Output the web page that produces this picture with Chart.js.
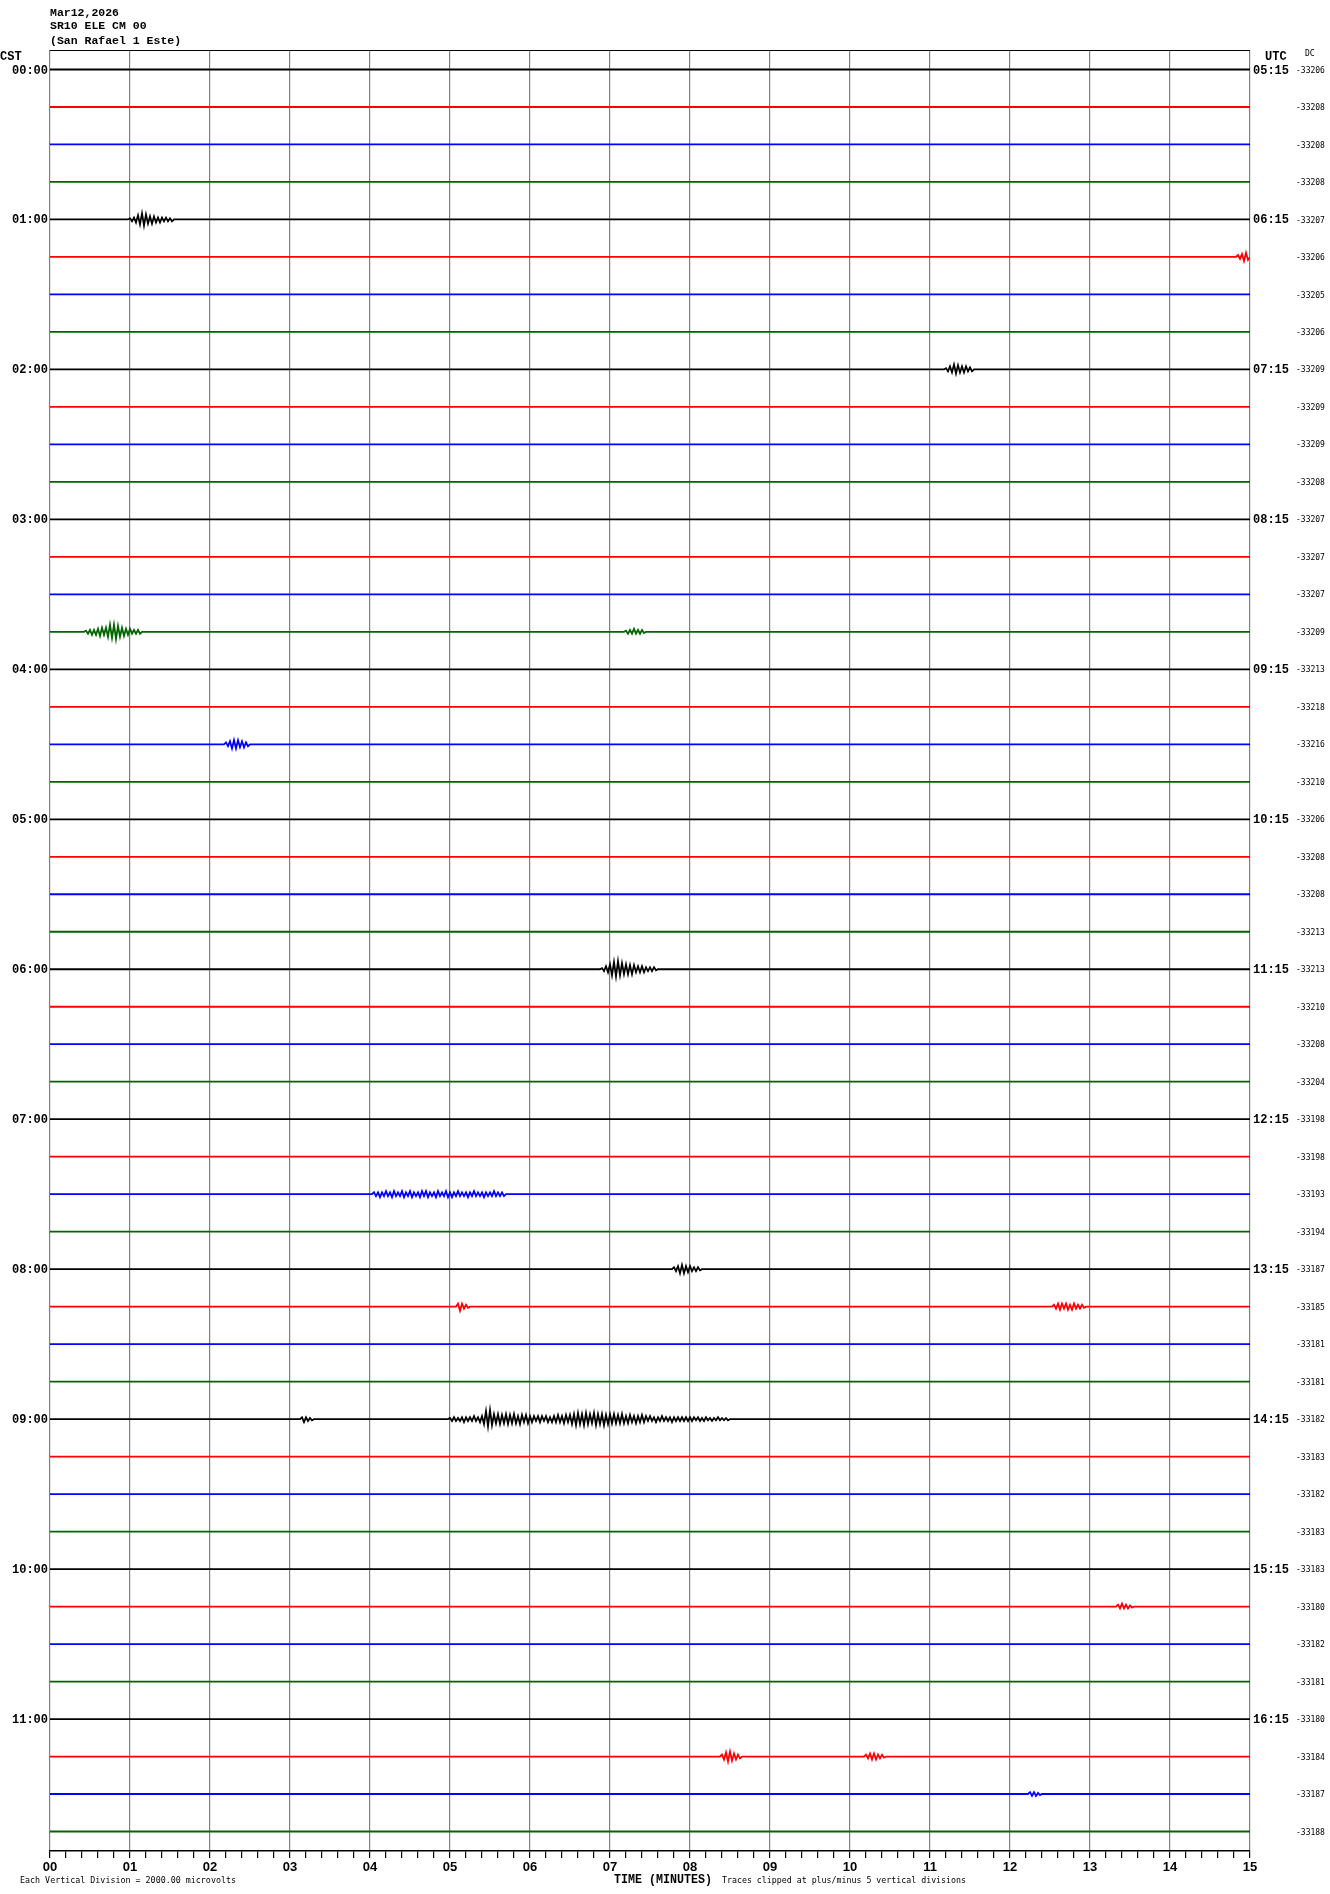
<!DOCTYPE html>
<html>
<head>
<meta charset="utf-8">
<title>SR10 ELE CM 00 helicorder</title>
<script src="https://cdn.jsdelivr.net/npm/chart.js@4/dist/chart.umd.min.js"></script>
<style>
  body { margin: 0; background: #fff; }
  #wrap { width: 1330px; height: 1894px; position: relative; }
</style>
</head>
<body>
<div id="wrap"><canvas id="heli"></canvas></div>
<script>
// --- data ---
const TITLE_LINES = ['Mar12,2026', 'SR10 ELE CM 00', '(San Rafael 1 Este)'];
const TRACE_COLORS = ['#000000', '#ff0000', '#0000ff', '#006600'];
const CST_LABELS = ['00:00', '01:00', '02:00', '03:00', '04:00', '05:00', '06:00', '07:00', '08:00', '09:00', '10:00', '11:00'];
const UTC_LABELS = ['05:15', '06:15', '07:15', '08:15', '09:15', '10:15', '11:15', '12:15', '13:15', '14:15', '15:15', '16:15'];
const DC_VALUES = [
  -33206, -33208, -33208, -33208, -33207, -33206, -33205, -33206,
  -33209, -33209, -33209, -33208, -33207, -33207, -33207, -33209,
  -33213, -33218, -33216, -33210, -33206, -33208, -33208, -33213,
  -33213, -33210, -33208, -33204, -33198, -33198, -33193, -33194,
  -33187, -33185, -33181, -33181, -33182, -33183, -33182, -33183,
  -33183, -33180, -33182, -33181, -33180, -33184, -33187, -33188
];
const MINUTE_LABELS = ['00', '01', '02', '03', '04', '05', '06', '07', '08', '09', '10', '11', '12', '13', '14', '15'];
const N_TRACES = 48;
const MINUTES = 15;

// events: [trace, start minute, samples every SAMPLE_STEP min, in % of trace spacing]
const SAMPLE_STEP = 0.025;
const EVENTS = [
  [4, 1.0, [3, -5, 5, -8, 11, -13, 16, -16, 13, -11, 8, -11, 8, -8, 5, -8, 5, -5, 5, -5, 3, -5]],
  [5, 14.85, [5, -5, 8, -11, 11, -8]],
  [8, 11.2, [3, -5, 8, -8, 13, -11, 11, -8, 8, -8, 8, -5, 5, -5]],
  [15, 0.45, [3, -5, 5, -8, 5, -8, 8, -11, 11, -8, 11, -13, 19, -16, 19, -19, 16, -13, 11, -11, 8, -8, 8, -5, 5, -5, 5, -5]],
  [15, 7.2, [3, -5, 5, -5, 8, -5, 5, -5, 5, -3]],
  [18, 2.2, [5, -5, 8, -11, 11, -11, 11, -8, 8, -8, 5, -5]],
  [24, 6.9, [3, -5, 8, -8, 13, -16, 19, -19, 21, -16, 16, -13, 13, -13, 11, -13, 11, -8, 8, -8, 8, -8, 5, -5, 5, -5, 5, -3]],
  [30, 4.05, [5, -5, 5, -8, 5, -5, 8, -5, 5, -8, 8, -5, 5, -5, 8, -8, 5, -5, 8, -8, 5, -5, 5, -8, 8, -5, 8, -8, 5, -5,
              5, -8, 8, -5, 5, -5, 8, -8, 5, -8, 5, -5, 8, -5, 5, -5, 5, -8, 5, -5, 8, -5, 5, -5, 5, -8, 5, -5, 5, -5,
              8, -5, 5, -5, 5, -5]],
  [32, 7.8, [5, -5, 8, -11, 11, -11, 8, -8, 8, -5, 5, -5, 5, -3]],
  [33, 5.1, [8, -11, 8, -5, 5, -3]],
  [33, 12.55, [5, -5, 8, -8, 8, -5, 8, -8, 5, -8, 8, -5, 5, -5, 5, -3]],
  [36, 3.15, [5, -8, 5, -5, 3, -3]],
  [36, 5.0, [3, -5, 5, -5, 3, -5, 5, -8, 5, -5, 5, -5, 8, -5, 5, -8, 8,
             -13, 21, -19, 24, -16, 13,
             -11, 13, -13, 11, -11, 13, -13, 11, -11, 13, -11, 8, -13, 11, -8, 11, -11, 8,
             -8, 8, -5, 8, -8, 8, -5, 8, -8, 5, -8, 8, -8, 11, -8, 8, -11, 11, -8, 11,
             -13, 13, -16, 16, -13, 13, -16, 16, -13, 13, -11, 16, -16, 13, -13, 13, -16, 11, -13, 13, -11, 13,
             -11, 11, -11, 13, -11, 8, -11, 11, -8, 8, -11, 8, -8, 11,
             -8, 8, -5, 8, -5, 5, -8, 5, -5, 8, -5, 5, -5, 5, -8, 5, -5, 5, -5, 5, -5, 5, -5, 5,
             -5, 5, -3, 5, -5, 3, -5, 5, -3, 3, -5, 3, -3, 5, -3, 3, -3, 3, -3]],
  [41, 13.35, [5, -5, 8, -5, 5, -5, 3, -3]],
  [45, 8.4, [5, -8, 11, -13, 13, -11, 8, -8, 5, -5]],
  [45, 10.2, [5, -5, 8, -8, 8, -8, 5, -5, 5, -3]],
  [46, 12.25, [5, -5, 5, -5, 3, -3]]
];

// build one line per trace, offset by its row
function traceData(i) {
  const pts = [{x: 0, y: -i}];
  EVENTS.filter(e => e[0] === i).sort((a, b) => a[1] - b[1]).forEach(e => {
    const [, start, samples] = e;
    pts.push({x: start - SAMPLE_STEP, y: -i});
    samples.forEach((v, k) => pts.push({x: start + k * SAMPLE_STEP, y: -i + v / 100}));
    pts.push({x: Math.min(MINUTES, start + samples.length * SAMPLE_STEP), y: -i});
  });
  pts.push({x: MINUTES, y: -i});
  return pts;
}

const datasets = [];
for (let i = 0; i < N_TRACES; i++) {
  datasets.push({
    data: traceData(i),
    borderColor: TRACE_COLORS[i % 4],
    borderWidth: 1.8,
    pointRadius: 0,
    tension: 0,
    fill: false
  });
}

const isWhole = v => Math.abs(v - Math.round(v)) < 1e-6;

const labelsPlugin = {
  id: 'heliLabels',
  afterDraw(chart) {
    const {ctx, chartArea, scales: {y}} = chart;
    ctx.save();
    // top frame line
    ctx.strokeStyle = '#000';
    ctx.lineWidth = 1;
    ctx.beginPath();
    ctx.moveTo(chartArea.left, chartArea.top + 0.5);
    ctx.lineTo(chartArea.right, chartArea.top + 0.5);
    ctx.stroke();

    ctx.fillStyle = '#000';
    ctx.textBaseline = 'middle';
    ctx.font = 'bold 11.5px "Liberation Mono", monospace';
    ctx.textAlign = 'left';
    TITLE_LINES.forEach((t, k) => ctx.fillText(t, 50, [13, 26, 41][k]));

    ctx.font = 'bold 12px "Liberation Mono", monospace';
    ctx.fillText('CST', 0, 57);
    ctx.fillText('UTC', 1265, 57);
    ctx.font = '8px "DejaVu Sans Mono", monospace';
    ctx.fillText('DC', 1305, 54);

    for (let i = 0; i < N_TRACES; i++) {
      const py = y.getPixelForValue(-i) + 1;
      if (i % 4 === 0) {
        ctx.font = 'bold 12px "Liberation Mono", monospace';
        ctx.textAlign = 'right';
        ctx.fillText(CST_LABELS[i / 4], 48, py);
        ctx.textAlign = 'left';
        ctx.fillText(UTC_LABELS[i / 4], 1253, py);
      }
      ctx.font = '8px "DejaVu Sans Mono", monospace';
      ctx.textAlign = 'left';
      ctx.fillText(String(DC_VALUES[i]), 1296, py, 29);
    }

    // footer
    ctx.font = '9px "DejaVu Sans Mono", monospace';
    ctx.fillText('Each Vertical Division = 2000.00 microvolts', 20, 1881, 216);
    ctx.fillText('Traces clipped at plus/minus 5 vertical divisions', 722, 1881, 244);
    ctx.font = 'bold 12px "Liberation Mono", monospace';
    ctx.fillText('TIME (MINUTES)', 614, 1880, 98);
    ctx.restore();
  }
};

new Chart(document.getElementById('heli'), {
  type: 'line',
  data: {datasets},
  plugins: [labelsPlugin],
  options: {
    responsive: true,
    maintainAspectRatio: false,
    animation: false,
    devicePixelRatio: 1,
    layout: {padding: {left: 50, right: 80, top: 50, bottom: 0}},
    plugins: {legend: {display: false}, tooltip: {enabled: false}},
    scales: {
      x: {
        type: 'linear',
        min: 0,
        max: MINUTES,
        afterFit(scale) { scale.height = 43; },
        ticks: {
          stepSize: 0.2,
          autoSkip: false,
          maxRotation: 0,
          padding: 2,
          color: '#000',
          font: {family: 'Liberation Sans, sans-serif', weight: 'bold', size: 13},
          callback: v => isWhole(v) ? MINUTE_LABELS[Math.round(v)] : ''
        },
        grid: {
          color: c => (c.tick && isWhole(c.tick.value)) ? '#808080' : 'rgba(0,0,0,0)',
          lineWidth: 1.2,
          tickColor: '#000',
          tickLength: 7,
          drawTicks: true
        },
        border: {display: true, color: '#000', width: 1.5}
      },
      y: {
        type: 'linear',
        display: false,
        min: -(N_TRACES - 1) - 0.52,
        max: 0.52
      }
    }
  }
});
</script>
</body>
</html>
